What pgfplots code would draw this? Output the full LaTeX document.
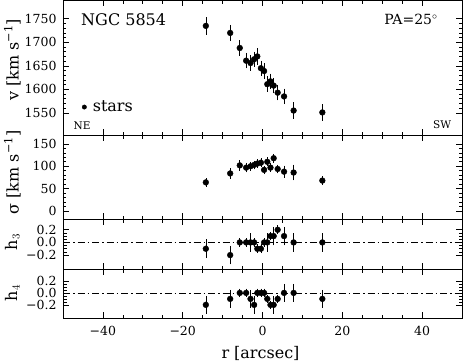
\documentclass[border=0pt]{standalone}
\usepackage{fontspec}
\setmainfont{DejaVu Serif}
\usepackage{pgfplots}
\pgfplotsset{compat=1.18}

\newcommand{\tfont}{\fontsize{12.5}{14}\selectfont}
\newcommand{\lfont}{\fontsize{16}{18}\selectfont}

\pgfplotsset{
  panel/.style={
    scale only axis, width=399pt, xmin=-50, xmax=50,
    axis line style={line width=0.8pt},
    every tick/.style={line width=0.7pt, black},
    xtick={-40,-20,0,20,40}, minor x tick num=3,
    tick align=inside,
    major tick length=6pt, minor tick length=3.5pt,
    ticklabel style={font=\tfont},
    yticklabel style={xshift=-3pt},
    label style={font=\lfont},
    xticklabels={},
  },
  pts/.style={only marks, mark=*, mark size=2.9pt, color=black,
    mark options={solid, fill=black, draw=black},
    error bars/.cd, y dir=both, y explicit,
    error bar style={line width=0.6pt, black},
    error mark options={mark size=3pt, line width=0.6pt, black}},
  zeroline/.style={black, line width=0.6pt,
    dash pattern=on 7pt off 3pt on 1.5pt off 3pt},
}

\begin{document}
\begin{tikzpicture}
\path[use as bounding box] (0pt,0pt) rectangle (463pt,-362pt);

% ---------- panel 1: velocity ----------
\begin{axis}[panel, at={(63pt,0pt)}, anchor=north west, height=135pt,
  ymin=1503, ymax=1790, ytick={1550,1600,1650,1700,1750},
  yticklabels={1550,1600,1650,1700,1750}, minor y tick num=4,
  ylabel={v [km s\textsuperscript{−1}]},
  ylabel style={at={(axis description cs:-0.127,0.556)}, anchor=center},
  legend style={at={(axis description cs:0.047,0.207)}, anchor=west,
    draw=none, fill=none, inner sep=0pt, font=\lfont},
  legend cell align=left,
  legend image code/.code={\fill[black] (0cm,0cm) circle (2.2pt); \path (0.22cm,0cm);},
]
\addplot[pts] coordinates {
(-14.2,1735) +- (0,12)
(-8.1,1720) +- (0,11)
(-5.7,1688) +- (0,10)
(-4.1,1661) +- (0,10)
(-3.0,1656) +- (0,10)
(-2.1,1664) +- (0,10)
(-1.3,1670) +- (0,11)
(-0.4,1645) +- (0,10)
(0.4,1639) +- (0,10)
(1.2,1611) +- (0,10)
(2.0,1617) +- (0,10)
(2.8,1608) +- (0,10)
(3.8,1593) +- (0,10)
(5.4,1585) +- (0,10)
(7.8,1555) +- (0,11)
(15.0,1551) +- (0,11)
};
\addlegendentry{stars}
\node[font=\fontsize{16}{18}\selectfont] at (rel axis cs:0.152,0.855) {NGC 5854};
\node[font=\fontsize{14}{16}\selectfont] at (rel axis cs:0.872,0.855) {PA=25$^\circ$};
\node[font=\fontsize{10.5}{12}\selectfont] at (rel axis cs:0.048,0.068) {NE};
\node[font=\fontsize{10.5}{12}\selectfont] at (rel axis cs:0.950,0.075) {SW};
\end{axis}

% ---------- panel 2: sigma ----------
\begin{axis}[panel, at={(63pt,-135pt)}, anchor=north west, height=84pt,
  ymin=-18, ymax=170, ytick={0,50,100,150}, yticklabels={0,50,100,150},
  minor y tick num=4,
  ylabel={σ [km s\textsuperscript{−1}]},
  ylabel style={at={(axis description cs:-0.127,0.554)}, anchor=center},
]
\addplot[pts] coordinates {
(-14.2,64) +- (0,3)
(-8.1,84) +- (0,5)
(-5.7,102) +- (0,5)
(-4.1,97) +- (0,4)
(-3.0,100) +- (0,3)
(-2.1,103) +- (0,3)
(-1.3,106) +- (0,3)
(-0.4,108) +- (0,3)
(0.4,92) +- (0,3)
(1.2,110) +- (0,3)
(2.0,97) +- (0,3)
(2.8,118) +- (0,3)
(3.8,94) +- (0,3)
(5.4,88) +- (0,7)
(7.8,86) +- (0,11)
(15.0,68) +- (0,3)
};
\end{axis}

% ---------- panel 3: h3 ----------
\begin{axis}[panel, at={(63pt,-219pt)}, anchor=north west, height=50pt,
  ymin=-0.42, ymax=0.37, ytick={-0.2,0,0.2}, yticklabels={−0.2,0.0,0.2},
  minor y tick num=3,
  ylabel={h$_3$},
  ylabel style={at={(axis description cs:-0.127,0.54)}, anchor=center},
]
\addplot[zeroline] coordinates {(-50,0) (50,0)};
\addplot[pts] coordinates {
(-14.2,-0.1) +- (0,0.1)
(-8.1,-0.2) +- (0,0.1)
(-5.7,0) +- (0,0.02)
(-4.1,0) +- (0,0.02)
(-3.0,0) +- (0,0.1)
(-2.1,0) +- (0,0.02)
(-1.3,-0.1) +- (0,0.02)
(-0.4,-0.1) +- (0,0.02)
(0.4,0) +- (0,0.02)
(1.2,0) +- (0,0.1)
(2.0,0.1) +- (0,0.02)
(2.8,0.1) +- (0,0.1)
(3.8,0.2) +- (0,0.02)
(5.4,0.1) +- (0,0.1)
(7.8,0) +- (0,0.1)
(15.0,0) +- (0,0.1)
};
\end{axis}

% ---------- panel 4: h4 ----------
\begin{axis}[panel, at={(63pt,-269pt)}, anchor=north west, height=49pt,
  ymin=-0.42, ymax=0.4, ytick={-0.2,0,0.2}, yticklabels={−0.2,0.0,0.2},
  minor y tick num=3,
  xticklabels={−40,−20,0,20,40},
  xticklabel style={yshift=-5pt},
  ylabel={h$_4$},
  ylabel style={at={(axis description cs:-0.127,0.51)}, anchor=center},
  xlabel={r [arcsec]},
  xlabel style={at={(axis description cs:0.495,-0.714)}, anchor=center},
]
\addplot[zeroline] coordinates {(-50,0) (50,0)};
\addplot[pts] coordinates {
(-14.2,-0.2) +- (0,0.1)
(-8.1,-0.1) +- (0,0.1)
(-5.7,0) +- (0,0.02)
(-4.1,0) +- (0,0.02)
(-3.0,-0.1) +- (0,0.1)
(-2.1,-0.2) +- (0,0.1)
(-1.3,0) +- (0,0.02)
(-0.4,0) +- (0,0.02)
(0.4,0) +- (0,0.02)
(1.2,-0.1) +- (0,0.02)
(2.0,-0.2) +- (0,0.02)
(2.8,-0.2) +- (0,0.1)
(3.8,-0.1) +- (0,0.02)
(5.4,0) +- (0,0.1)
(7.8,0) +- (0,0.1)
(15.0,-0.1) +- (0,0.1)
};
\end{axis}
\end{tikzpicture}
\end{document}
